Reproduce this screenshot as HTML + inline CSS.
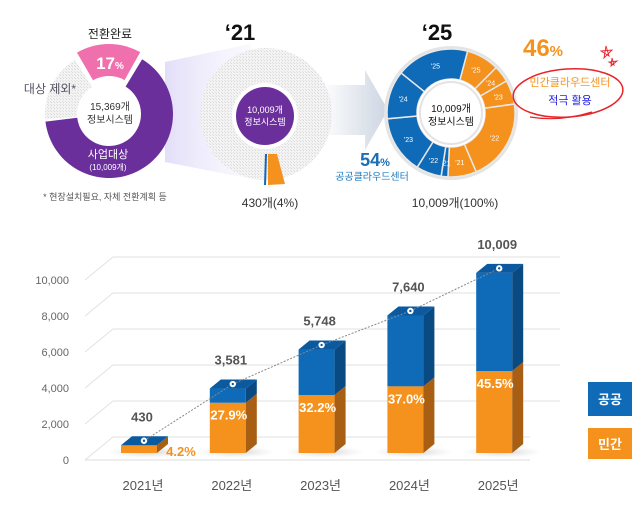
<!DOCTYPE html>
<html><head><meta charset="utf-8">
<style>
html,body{margin:0;padding:0;background:#fff;}
body{width:640px;height:510px;overflow:hidden;font-family:"Liberation Sans","Noto Sans CJK KR",sans-serif;}
svg text{font-family:"Liberation Sans","Noto Sans CJK KR",sans-serif;}
</style></head>
<body>
<svg id="root" width="640" height="510" viewBox="0 0 640 510" xmlns="http://www.w3.org/2000/svg">
<defs>
<pattern id="hatch" width="3" height="3" patternUnits="userSpaceOnUse">
<rect width="3" height="3" fill="#f3f3f3"/><rect width="1" height="1" fill="#d9d9d9"/><rect x="2" y="2" width="1" height="1" fill="#e0e0e0"/>
</pattern>
<linearGradient id="fan" x1="0" x2="1" y1="0" y2="0">
<stop offset="0" stop-color="#dcd6f7" stop-opacity="0.8"/><stop offset="1" stop-color="#f7f5fd" stop-opacity="0.3"/>
</linearGradient>
<linearGradient id="arrowg" x1="0" x2="1">
<stop offset="0" stop-color="#ffffff"/><stop offset="1" stop-color="#cdd5e2"/>
</linearGradient>
<radialGradient id="floor" cx="0.5" cy="0.5" r="0.5">
<stop offset="0" stop-color="#bbb" stop-opacity="0.7"/><stop offset="1" stop-color="#ddd" stop-opacity="0"/>
</radialGradient>
</defs>
<g id="top">
<polygon points="165,62 250,44 268,182 165,162" fill="url(#fan)"/>
<polygon points="320,85 365,85 365,70 388,110 365,150 365,135 320,135" fill="url(#arrowg)"/>
<g id="leftDonut"></g>
<text x="110" y="38" font-size="12" text-anchor="middle" fill="#222">전환완료</text>
<text x="110" y="69" font-size="17" font-weight="bold" text-anchor="middle" fill="#fff">17<tspan font-size="10">%</tspan></text>
<text x="50" y="93" font-size="12" text-anchor="middle" fill="#556">대상 제외*</text>
<text x="110" y="110" font-size="10" text-anchor="middle" fill="#333">15,369개</text>
<text x="110" y="123" font-size="10" text-anchor="middle" fill="#333">정보시스템</text>
<text x="108" y="158" font-size="11" text-anchor="middle" fill="#fff">사업대상</text>
<text x="108" y="170" font-size="8" text-anchor="middle" fill="#fff">(10,009개)</text>
<text x="105" y="200" font-size="9" text-anchor="middle" fill="#555">* 현장설치필요, 자체 전환계획 등</text>
<text x="240" y="40" font-size="22" font-weight="bold" text-anchor="middle" fill="#111">‘21</text>
<circle cx="266" cy="114" r="66" fill="url(#hatch)"/>
<circle cx="265" cy="116" r="33" fill="#fff"/>
<circle cx="265" cy="116" r="29" fill="#6b2f9c"/>
<text x="265" y="113" font-size="9" text-anchor="middle" fill="#fff">10,009개</text>
<text x="265" y="125" font-size="9" text-anchor="middle" fill="#fff">정보시스템</text>
<polygon points="268,154 277,154 285,184 268,185" fill="#f5921e"/>
<polygon points="265,154 267,154 266,185 264,185" fill="#0f6bb8"/>
<text x="270" y="207" font-size="12" text-anchor="middle" fill="#333">430개(4%)</text>
<text x="437" y="40" font-size="22" font-weight="bold" text-anchor="middle" fill="#111">‘25</text>
<circle cx="451" cy="113" r="67" fill="#e4e4e4"/>
<g id="rightDonut"></g>
<text x="451" y="112" font-size="10" text-anchor="middle" fill="#111">10,009개</text>
<text x="451" y="125" font-size="10" text-anchor="middle" fill="#111">정보시스템</text>
<text x="375" y="166" font-size="18" font-weight="bold" text-anchor="middle" fill="#1a6fb5">54<tspan font-size="11">%</tspan></text>
<text x="372" y="180" font-size="10" text-anchor="middle" fill="#1a7ac0">공공클라우드센터</text>
<text x="455" y="207" font-size="12" text-anchor="middle" fill="#333">10,009개(100%)</text>
<text x="543" y="56" font-size="24" font-weight="bold" text-anchor="middle" fill="#f5921e">46<tspan font-size="15">%</tspan></text>
<ellipse cx="568" cy="93" rx="55" ry="24" fill="none" stroke="#e8232a" stroke-width="1.5" transform="rotate(-4 568 93)"/>
<path d="M530 117 Q560 122 592 112" stroke="#e8232a" fill="none" stroke-width="1.2"/>
<text x="570" y="86" font-size="11" text-anchor="middle" fill="#f5921e">민간클라우드센터</text>
<text x="570" y="104" font-size="11" text-anchor="middle" fill="#2020e0">적극 활용</text>
<path d="M606 46 L609 56 L601 51 L612 50 L604 58 Z M612 58 L614 65 L609 62 L617 61 L611 66 Z" fill="none" stroke="#e8232a" stroke-width="0.9"/>
</g>
<g id="chart"></g>
</svg>
<script>
const years = ["2021년","2022년","2023년","2024년","2025년"];
const totals = [430, 3581, 5748, 7640, 10009];
const privateShare = [4.2, 27.9, 32.2, 37.0, 45.5];
const shareBase = [10009];
const totalLabels = ["430","3,581","5,748","7,640","10,009"];
const yTicks = [0, 2000, 4000, 6000, 8000, 10000];
const yTickLabels = ["0","2,000","4,000","6,000","8,000","10,000"];
const leftSlices = [17, 65, 18];
const leftColors = ["#f06fad","#6b2f9c","hatch"];
const rightLabels = ["'25","'24","'23","'22","'21","'21","'22","'23","'24","'25"];
const rightShares = [8.3, 4.2, 6.1, 20.8, 7.2, 1.7, 6.4, 14.7, 12.2, 18.4];
const rightColors = ["#f5921e","#f5921e","#f5921e","#f5921e","#f5921e","#0f6bb8","#0f6bb8","#0f6bb8","#0f6bb8","#0f6bb8"];

const NS = "http://www.w3.org/2000/svg";
function el(tag, attrs, parent){const e=document.createElementNS(NS,tag);for(const k in attrs)e.setAttribute(k,attrs[k]);parent.appendChild(e);return e;}
function pt(cx,cy,r,a){const t=(a-90)*Math.PI/180;return [cx+r*Math.cos(t),cy+r*Math.sin(t)];}
function arc(cx,cy,r0,r1,a0,a1){const p0=pt(cx,cy,r1,a0),p1=pt(cx,cy,r1,a1),p2=pt(cx,cy,r0,a1),p3=pt(cx,cy,r0,a0);const l=(a1-a0)>180?1:0;
return `M${p0[0]} ${p0[1]} A${r1} ${r1} 0 ${l} 1 ${p1[0]} ${p1[1]} L${p2[0]} ${p2[1]} A${r0} ${r0} 0 ${l} 0 ${p3[0]} ${p3[1]}Z`;}

const LD=document.getElementById('leftDonut');
let a=-31;
leftSlices.forEach((s,i)=>{const span=s*3.6;let cx=109,cy=114;
 if(i===0){cy-=6;}
 const p=el('path',{d:arc(cx,cy,32,64,a+1,a+span-1),fill:leftColors[i]==='hatch'?'url(#hatch)':leftColors[i]},LD);
 
 
 a+=span;});

const RD=document.getElementById('rightDonut');
a=15;
rightShares.forEach((s,i)=>{const span=s*3.6;
 const p=el('path',{d:arc(451,113,34,64,a,a+span),fill:rightColors[i],stroke:'#e8e8e8','stroke-width':1.5},RD);
 
 
 const m=pt(451,113,50,a+span/2);
 const t=el('text',{x:m[0],y:m[1]+3,'font-size':7,'text-anchor':'middle',fill:'#fff'},RD);
 t.textContent=rightLabels[i];
 
 
 a+=span;});
el('circle',{cx:451,cy:113,r:34,fill:'#fff'},RD);
el('circle',{cx:451,cy:113,r:31,fill:'#fff',stroke:'#e3e3e3','stroke-width':2},RD);

const C=document.getElementById('chart');
const y0=453, pxPer=0.018, dx=11, dy=9;
function Y(v){return y0-v*pxPer;}
function X(i){return 121+i*88.8;}
const bw=36;
yTicks.forEach((v,i)=>{const fy=460-v*0.018;
 const g=el('polyline',{points:`${85} ${fy} ${113} ${fy-23} ${i===0?530:560} ${fy-23}`,fill:'none',stroke:'#e2e2e2','stroke-width':1},C);
 
 
 const t=el('text',{x:69,y:fy+4,'font-size':11,'text-anchor':'end',fill:'#666'},C);
 t.textContent=yTickLabels[i];
 
 });
el('line',{x1:85,y1:460,x2:530,y2:460,stroke:'#ddd'},C);
const dots=[];
totals.forEach((v,i)=>{const x=X(i),top=Y(v),ov=Math.min(v,shareBase[0]*privateShare[i]/100),oy=Y(ov);
 el('ellipse',{cx:x+bw/2+8,cy:y0-1,rx:40,ry:6,fill:'url(#floor)'},C);
 const g=el('g',{},C);
 
 
 el('rect',{x:x,y:oy,width:bw,height:y0-oy,fill:'#f5921e'},g);
 el('rect',{x:x,y:top,width:bw,height:oy-top,fill:'#0f6bb8'},g);
 el('polygon',{points:`${x+bw} ${oy} ${x+bw+dx} ${oy-dy} ${x+bw+dx} ${y0-dy} ${x+bw} ${y0}`,fill:'#a85f14'},g);
 el('polygon',{points:`${x+bw} ${top} ${x+bw+dx} ${top-dy} ${x+bw+dx} ${oy-dy} ${x+bw} ${oy}`,fill:'#094a82'},g);
 el('polygon',{points:`${x} ${top} ${x+dx} ${top-dy} ${x+bw+dx} ${top-dy} ${x+bw} ${top}`,fill:'#0b5aa0'},g);
 dots.push([x+bw/2+5,top-dy/2]);
 const lt=el('text',{x:x+bw/2+3,y:top-24,'font-size':13,'font-weight':'bold','text-anchor':'middle',fill:'#555'},C);
 lt.textContent=totalLabels[i];
 
 
 const pt_=el('text',{x:i===0?x+bw+24:x+bw/2+1,y:i===0?y0+3:oy+17,'font-size':13,'font-weight':'bold','text-anchor':'middle',fill:i===0?'#f5921e':'#fff'},C);
 pt_.textContent=privateShare[i].toFixed(1)+'%';
 
 
 const xl=el('text',{x:x+bw/2+4,y:490,'font-size':13,'text-anchor':'middle',fill:'#555'},C);
 xl.textContent=years[i];
 
 });
const tl=el('polyline',{points:dots.map(d=>d.join(' ')).join(' '),fill:'none',stroke:'#888','stroke-width':1,'stroke-dasharray':'2 1.5'},C);


dots.forEach(d=>{const c=el('circle',{cx:d[0],cy:d[1],r:3.2,fill:'#fff'},C);
 
 
 el('circle',{cx:d[0],cy:d[1],r:1.2,fill:'#0b5aa0'},C);});
const lg=el('g',{},C);


el('rect',{x:588,y:382,width:44,height:34,fill:'#0f6bb8'},lg);
el('rect',{x:588,y:428,width:44,height:31,fill:'#f5921e'},lg);
const l1=el('text',{x:610,y:404,'font-size':13,'font-weight':'bold','text-anchor':'middle',fill:'#fff'},lg);l1.textContent='공공';


const l2=el('text',{x:610,y:449,'font-size':13,'font-weight':'bold','text-anchor':'middle',fill:'#fff'},lg);l2.textContent='민간';


</script>
</body></html>
